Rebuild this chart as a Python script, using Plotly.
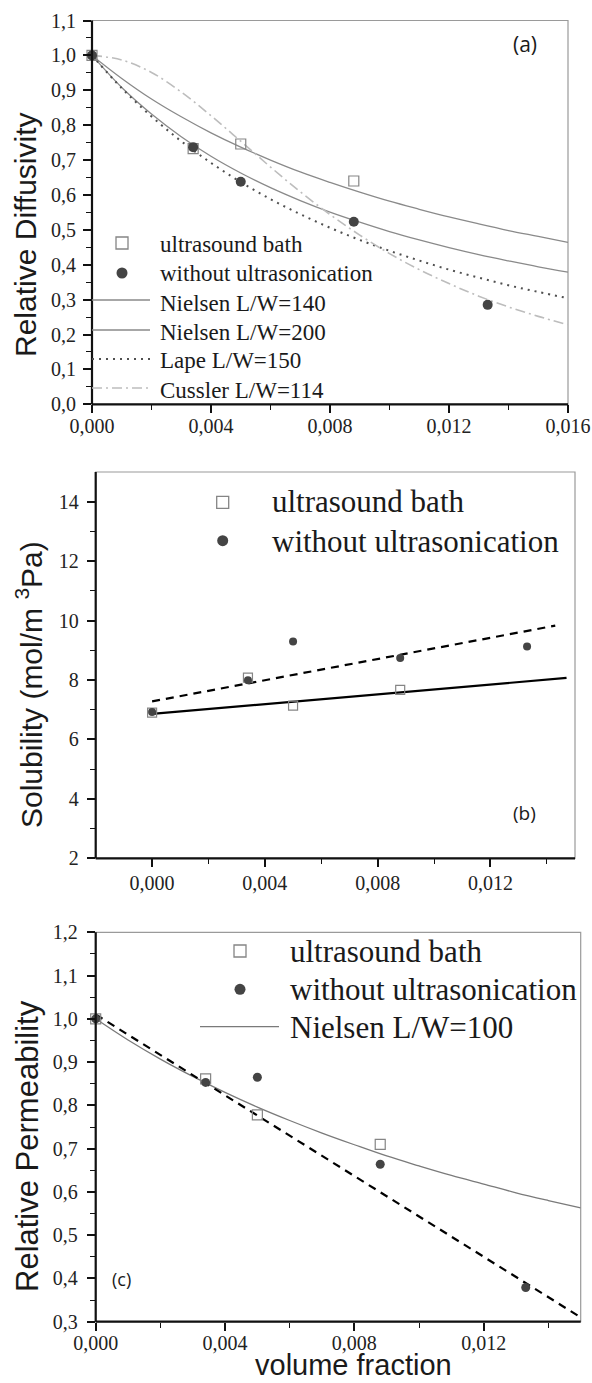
import plotly.graph_objects as go

W, H = 592, 1383

# ---------------- panel (a): relative diffusivity ----------------
phi_a_bath = [0.0, 0.0034, 0.0050, 0.0088]
diff_bath = [1.0, 0.733, 0.746, 0.640]
phi_a_plain = [0.0, 0.0034, 0.0050, 0.0088, 0.0133]
diff_plain = [1.0, 0.737, 0.638, 0.523, 0.285]

phi_model_a = [0.000, 0.001, 0.002, 0.003, 0.004, 0.005, 0.006, 0.007, 0.008,
               0.009, 0.010, 0.011, 0.012, 0.013, 0.014, 0.015, 0.016]
nielsen_140 = [1.000, 0.934, 0.875, 0.824, 0.778, 0.737, 0.700, 0.666, 0.636,
               0.608, 0.582, 0.559, 0.537, 0.517, 0.498, 0.481, 0.464]
nielsen_200 = [1.000, 0.908, 0.832, 0.767, 0.711, 0.663, 0.621, 0.584, 0.551,
               0.522, 0.495, 0.471, 0.449, 0.429, 0.411, 0.394, 0.379]
lape_150 = [1.000, 0.906, 0.825, 0.754, 0.692, 0.637, 0.588, 0.545, 0.506,
            0.471, 0.440, 0.412, 0.386, 0.363, 0.341, 0.322, 0.304]
cussler_114 = [1.000, 0.987, 0.951, 0.895, 0.827, 0.754, 0.680, 0.609, 0.544,
               0.485, 0.432, 0.386, 0.346, 0.310, 0.279, 0.252, 0.228]

a_xtick_vals = [0.000, 0.004, 0.008, 0.012, 0.016]
a_xtick_text = ["0,000", "0,004", "0,008", "0,012", "0,016"]
a_ytick_vals = [0.0, 0.1, 0.2, 0.3, 0.4, 0.5, 0.6, 0.7, 0.8, 0.9, 1.0, 1.1]
a_ytick_text = ["0,0", "0,1", "0,2", "0,3", "0,4", "0,5", "0,6", "0,7", "0,8",
                "0,9", "1,0", "1,1"]

# ---------------- panel (b): solubility ----------------
phi_b_bath = [0.0, 0.0034, 0.0050, 0.0088]
sol_bath = [6.90, 8.08, 7.14, 7.67]
phi_b_plain = [0.0, 0.0034, 0.0050, 0.0088, 0.0133]
sol_plain = [6.92, 7.99, 9.30, 8.74, 9.13]
fit_b_bath_x = [0.0, 0.0147]
fit_b_bath_y = [6.86, 8.07]
fit_b_plain_x = [0.0, 0.0143]
fit_b_plain_y = [7.28, 9.83]

b_xtick_vals = [0.000, 0.004, 0.008, 0.012]
b_xtick_text = ["0,000", "0,004", "0,008", "0,012"]
b_ytick_vals = [2, 4, 6, 8, 10, 12, 14]
b_ytick_text = ["2", "4", "6", "8", "10", "12", "14"]

# ---------------- panel (c): relative permeability ----------------
phi_c_bath = [0.0, 0.0034, 0.0050, 0.0088]
perm_bath = [1.0, 0.861, 0.778, 0.710]
phi_c_plain = [0.0, 0.0034, 0.0050, 0.0088, 0.0133]
perm_plain = [1.0, 0.853, 0.865, 0.664, 0.379]

phi_model_c = [0.000, 0.001, 0.002, 0.003, 0.004, 0.005, 0.006, 0.007, 0.008,
               0.009, 0.010, 0.011, 0.012, 0.013, 0.014, 0.015]
nielsen_100 = [1.000, 0.951, 0.907, 0.867, 0.830, 0.796, 0.765, 0.736, 0.709,
               0.683, 0.660, 0.638, 0.618, 0.598, 0.580, 0.563]
fit_c_x = [0.0, 0.015]
fit_c_y = [1.01, 0.31]

c_xtick_vals = [0.000, 0.004, 0.008, 0.012]
c_xtick_text = ["0,000", "0,004", "0,008", "0,012"]
c_ytick_vals = [0.3, 0.4, 0.5, 0.6, 0.7, 0.8, 0.9, 1.0, 1.1, 1.2]
c_ytick_text = ["0,3", "0,4", "0,5", "0,6", "0,7", "0,8", "0,9", "1,0", "1,1", "1,2"]

SERIF = "Liberation Serif, Times New Roman, serif"
SANS = "Liberation Sans, Arial, sans-serif"
LABEL = "Open Sans, sans-serif"
SQ_EDGE = "#858585"
DOT_FILL = "#444444"


def px(x):
    return x / W


def py(y):
    return 1 - y / H


fig = go.Figure()


def square_trace(x, y, xa, ya, size):
    return go.Scatter(x=x, y=y, xaxis=xa, yaxis=ya, mode="markers",
                      marker=dict(symbol="square-open", size=size, color=SQ_EDGE,
                                  line=dict(width=1.2, color=SQ_EDGE)),
                      showlegend=False, cliponaxis=False)


def dot_trace(x, y, xa, ya, size):
    return go.Scatter(x=x, y=y, xaxis=xa, yaxis=ya, mode="markers",
                      marker=dict(symbol="circle", size=size, color=DOT_FILL),
                      showlegend=False, cliponaxis=False)


def line_trace(x, y, xa, ya, color, width, dash, shape="spline"):
    return go.Scatter(x=x, y=y, xaxis=xa, yaxis=ya, mode="lines",
                      line=dict(color=color, width=width, dash=dash, shape=shape),
                      showlegend=False, hoverinfo="skip")


# panel (a) curves and points
fig.add_trace(line_trace(phi_model_a, nielsen_140, "x", "y", "#8a8a8a", 1.3, "solid"))
fig.add_trace(line_trace(phi_model_a, nielsen_200, "x", "y", "#8a8a8a", 1.3, "solid"))
fig.add_trace(line_trace(phi_model_a, lape_150, "x", "y", "#505050", 2.0, "2px,5px"))
fig.add_trace(line_trace(phi_model_a, cussler_114, "x", "y", "#bdbdbd", 1.6, "10px,4px,2px,4px"))
fig.add_trace(square_trace(phi_a_bath, diff_bath, "x", "y", 10))
fig.add_trace(dot_trace(phi_a_plain, diff_plain, "x", "y", 10))

# panel (b) fits and points
fig.add_trace(line_trace(fit_b_bath_x, fit_b_bath_y, "x2", "y2", "#000000", 2.2, "solid", "linear"))
fig.add_trace(line_trace(fit_b_plain_x, fit_b_plain_y, "x2", "y2", "#000000", 2.2, "8px,6px", "linear"))
fig.add_trace(square_trace(phi_b_bath, sol_bath, "x2", "y2", 9))
fig.add_trace(dot_trace(phi_b_plain, sol_plain, "x2", "y2", 8))

# panel (c) model, fit and points
fig.add_trace(line_trace(phi_model_c, nielsen_100, "x3", "y3", "#7a7a7a", 1.3, "solid"))
fig.add_trace(line_trace(fit_c_x, fit_c_y, "x3", "y3", "#000000", 2.2, "8px,6px", "linear"))
fig.add_trace(square_trace(phi_c_bath, perm_bath, "x3", "y3", 10))
fig.add_trace(dot_trace(phi_c_plain, perm_plain, "x3", "y3", 9))


def axis(domain, rng, vals, text, minor_vals, fsize, standoff, anchor):
    return dict(domain=domain, range=rng, anchor=anchor, automargin=False,
                tickmode="array", tickvals=vals, ticktext=text,
                ticks="outside", ticklen=8, tickwidth=1.6, tickcolor="#111",
                minor=dict(tickvals=minor_vals, ticks="outside", ticklen=5,
                           tickwidth=1.3, tickcolor="#111"),
                tickfont=dict(family=SERIF, size=fsize, color="#222"),
                ticklabelstandoff=standoff,
                showgrid=False, zeroline=False, showline=False)


fig.update_layout(
    template="none",
    width=W, height=H, autosize=False, margin=dict(l=0, r=0, t=0, b=0, pad=0),
    paper_bgcolor="white", plot_bgcolor="white", showlegend=False,
    xaxis=axis([px(92), px(568)], [0, 0.016], a_xtick_vals, a_xtick_text,
               [0.002, 0.006, 0.010, 0.014], 20, -4, "y"),
    yaxis=axis([py(404.3), py(20.5)], [0, 1.1], a_ytick_vals, a_ytick_text,
               [0.05, 0.15, 0.25, 0.35, 0.45, 0.55, 0.65, 0.75, 0.85, 0.95, 1.05],
               20, 3, "x"),
    xaxis2=axis([px(95.7), px(575)], [-0.002, 0.015], b_xtick_vals, b_xtick_text,
                [0.002, 0.006, 0.010, 0.014], 20, -1, "y2"),
    yaxis2=axis([py(858.3), py(472)], [2, 15], b_ytick_vals, b_ytick_text,
                [3, 5, 7, 9, 11, 13], 20, 4, "x2"),
    xaxis3=axis([px(95.7), px(580.7)], [0, 0.015], c_xtick_vals, c_xtick_text,
                [0.002, 0.006, 0.010, 0.014], 20, -5, "y3"),
    yaxis3=axis([py(1321.7), py(932.3)], [0.3, 1.2], c_ytick_vals, c_ytick_text,
                [0.35, 0.45, 0.55, 0.65, 0.75, 0.85, 0.95, 1.05, 1.15], 20, 5, "x3"),
)

shapes = []
# frames: light top/right, dark left/bottom
for xa, ya in (("x", "y"), ("x2", "y2"), ("x3", "y3")):
    xr, yr = xa + " domain", ya + " domain"
    shapes.append(dict(type="rect", xref=xr, yref=yr, x0=0, x1=1, y0=0, y1=1,
                       line=dict(color="#9a9a9a", width=1.2), layer="below"))
    shapes.append(dict(type="line", xref=xr, yref=yr, x0=0, x1=0, y0=0, y1=1,
                       line=dict(color="#111", width=2.2)))
    shapes.append(dict(type="line", xref=xr, yref=yr, x0=0, x1=1, y0=0, y1=0,
                       line=dict(color="#111", width=2.2)))


def key_square(cx, cy, s):
    return dict(type="rect", xref="paper", yref="paper",
                x0=px(cx - s / 2), x1=px(cx + s / 2), y0=py(cy + s / 2), y1=py(cy - s / 2),
                line=dict(color=SQ_EDGE, width=1.3), fillcolor="white")


def key_dot(cx, cy, s):
    return dict(type="circle", xref="paper", yref="paper",
                x0=px(cx - s / 2), x1=px(cx + s / 2), y0=py(cy + s / 2), y1=py(cy - s / 2),
                line=dict(color=DOT_FILL, width=0), fillcolor=DOT_FILL)


def key_line(x0, x1, cy, color, width, dash):
    return dict(type="line", xref="paper", yref="paper", x0=px(x0), x1=px(x1),
                y0=py(cy), y1=py(cy), line=dict(color=color, width=width, dash=dash))


# legend keys
shapes += [
    key_square(122, 243, 12), key_dot(122, 273, 11),
    key_line(92, 150, 300, "#8a8a8a", 1.3, "solid"),
    key_line(92, 150, 330, "#8a8a8a", 1.3, "solid"),
    key_line(92, 150, 359, "#505050", 2.0, "2px,5px"),
    key_line(92, 150, 388, "#bdbdbd", 1.6, "10px,4px,2px,4px"),
    key_square(222.7, 502.3, 12), key_dot(222.7, 540.7, 11),
    key_square(240, 951, 12), key_dot(240, 989.3, 11),
    key_line(200, 279, 1026.7, "#7a7a7a", 1.3, "solid"),
]

annotations = []


def text(x, y, s, size, family=SERIF, anchor="left", angle=0, color="#1a1a1a"):
    annotations.append(dict(x=px(x), y=py(y), xref="paper", yref="paper", text=s,
                            showarrow=False, xanchor=anchor, yanchor="middle",
                            textangle=angle, font=dict(family=family, size=size, color=color)))


# legend labels
for yy, s in zip([244, 274, 303, 332, 361, 390],
                 ["ultrasound bath", "without ultrasonication", "Nielsen L/W=140",
                  "Nielsen L/W=200", "Lape L/W=150", "Cussler L/W=114"]):
    text(158, yy, s, 23)
for yy, s in zip([502, 541], ["ultrasound bath", "without ultrasonication"]):
    text(270, yy, s, 31)
for yy, s in zip([951, 989, 1027], ["ultrasound bath", "without ultrasonication", "Nielsen L/W=100"]):
    text(288, yy, s, 31)

# axis titles
text(25, 235, "Relative Diffusivity", 30, SANS, "center", -90)
text(29, 685, "Solubility (mol/m <sup>3</sup>Pa)", 30, SANS, "center", -90)
text(27, 1146, "Relative Permeability", 31, SANS, "center", -90)
text(353, 1365, "volume fraction", 29, SANS, "center")

# panel labels
text(525, 44, "(a)", 21, LABEL, "center")
text(524, 813, "(b)", 19, LABEL, "center")
text(121, 1279, "(c)", 18, LABEL, "center")

fig.update_layout(shapes=shapes, annotations=annotations)
fig.write_html("out.html", config={"responsive": False})
